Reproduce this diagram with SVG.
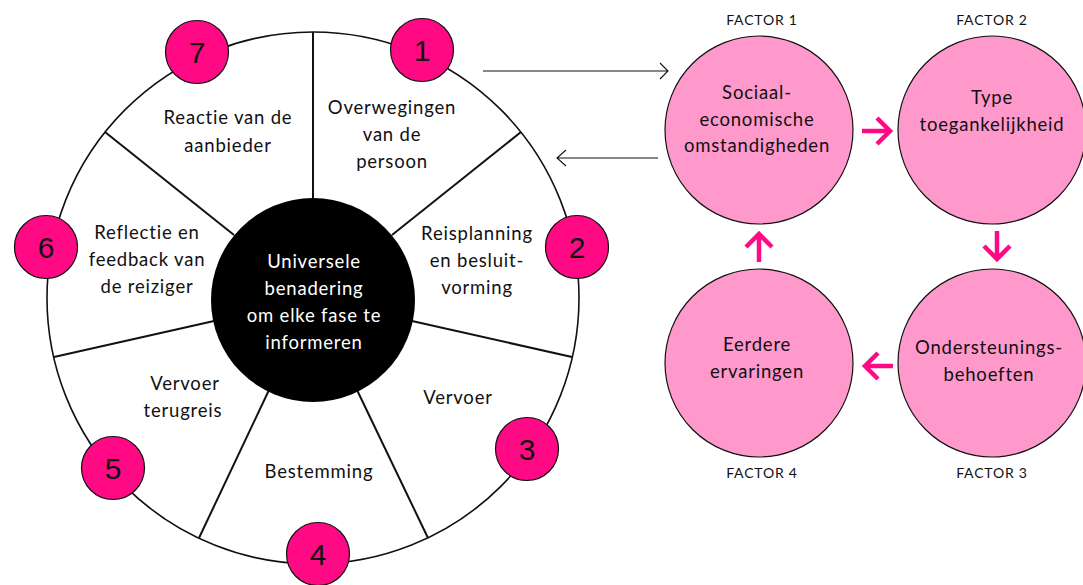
<svg xmlns="http://www.w3.org/2000/svg" width="1083" height="585" viewBox="0 0 1083 585">
<style>
.t{font-family:Lato,"Noto Sans",sans-serif;font-size:18.5px;letter-spacing:0.8px;fill:#111;text-anchor:middle}
.w{fill:#fff}
.num{font-family:"Liberation Sans",Arial,sans-serif;font-size:30px;fill:#111;text-anchor:middle}
.fl{font-family:Lato,"Noto Sans",sans-serif;font-size:14px;letter-spacing:0.8px;fill:#111;text-anchor:middle}
.badge{fill:#FF0A84;stroke:#111;stroke-width:1.2}
.fc{fill:#FF99CC;stroke:#111;stroke-width:1.2}
.spoke{stroke:#111;stroke-width:2;fill:none}
.thin{stroke:#111;stroke-width:1.1;fill:none}
.pk{stroke:#FF0A84;stroke-width:4.5;fill:none;stroke-linejoin:miter}
</style>
<rect width="1083" height="585" fill="#fff"/>
<g id="wheel">
<circle cx="313" cy="298" r="266" fill="#fff" stroke="#111" stroke-width="1.6"/>
<g class="spoke">
<line x1="313" y1="32" x2="313" y2="198"/>
<line x1="521" y1="132" x2="392" y2="235"/>
<line x1="572" y1="357" x2="412" y2="321"/>
<line x1="428" y1="538" x2="357" y2="390"/>
<line x1="199" y1="538" x2="269" y2="390"/>
<line x1="54" y1="357" x2="214" y2="321"/>
<line x1="105" y1="132" x2="234" y2="235"/>
</g>
</g>
<g id="center">
<circle cx="313" cy="300" r="102" fill="#000"/>
<text class="t w" x="314" y="268">Universele</text>
<text class="t w" x="314" y="295">benadering</text>
<text class="t w" x="314" y="322">om elke fase te</text>
<text class="t w" x="314" y="349">informeren</text>
</g>
<g id="seg1">
<text class="t" x="392" y="114">Overwegingen</text>
<text class="t" x="392" y="141">van de</text>
<text class="t" x="392" y="168">persoon</text>
</g>
<g id="seg2">
<text class="t" x="477" y="240">Reisplanning</text>
<text class="t" x="477" y="267">en besluit-</text>
<text class="t" x="477" y="294">vorming</text>
</g>
<g id="seg3"><text class="t" x="458" y="404">Vervoer</text></g>
<g id="seg4"><text class="t" x="319" y="478">Bestemming</text></g>
<g id="seg5">
<text class="t" x="185" y="390">Vervoer</text>
<text class="t" x="183" y="417">terugreis</text>
</g>
<g id="seg6">
<text class="t" x="147" y="239">Reflectie en</text>
<text class="t" x="147" y="266">feedback van</text>
<text class="t" x="147" y="293">de reiziger</text>
</g>
<g id="seg7">
<text class="t" x="228" y="124">Reactie van de</text>
<text class="t" x="228" y="152">aanbieder</text>
</g>
<g id="n1"><circle class="badge" cx="422" cy="50" r="31.5"/><text class="num" x="422" y="61">1</text></g>
<g id="n2"><circle class="badge" cx="577" cy="247" r="31.5"/><text class="num" x="577" y="258">2</text></g>
<g id="n3"><circle class="badge" cx="527" cy="449" r="31.5"/><text class="num" x="527" y="460">3</text></g>
<g id="n4"><circle class="badge" cx="318" cy="554" r="31.5"/><text class="num" x="318" y="565">4</text></g>
<g id="n5"><circle class="badge" cx="113" cy="468" r="31.5"/><text class="num" x="113" y="479">5</text></g>
<g id="n6"><circle class="badge" cx="46" cy="247" r="31.5"/><text class="num" x="46" y="258">6</text></g>
<g id="n7"><circle class="badge" cx="197" cy="52" r="31.5"/><text class="num" x="197" y="63">7</text></g>
<g id="f1">
<text class="fl" x="762" y="25">FACTOR 1</text>
<circle class="fc" cx="759" cy="130" r="94"/>
<text class="t" x="757" y="99">Sociaal-</text>
<text class="t" x="757" y="126">economische</text>
<text class="t" x="757" y="152">omstandigheden</text>
</g>
<g id="f2">
<text class="fl" x="992" y="25">FACTOR 2</text>
<circle class="fc" cx="992" cy="130" r="94"/>
<text class="t" x="992" y="104">Type</text>
<text class="t" x="992" y="131">toegankelijkheid</text>
</g>
<g id="f3">
<circle class="fc" cx="992" cy="363" r="94"/>
<text class="t" x="989" y="354">Ondersteunings-</text>
<text class="t" x="989" y="381">behoeften</text>
<text class="fl" x="992" y="478">FACTOR 3</text>
</g>
<g id="f4">
<circle class="fc" cx="759" cy="363" r="94"/>
<text class="t" x="757" y="351">Eerdere</text>
<text class="t" x="757" y="378">ervaringen</text>
<text class="fl" x="762" y="478">FACTOR 4</text>
</g>
<g id="connectors">
<path class="thin" d="M483,71 H668 M660,63 L668,71 L660,79"/>
<path class="thin" d="M658,158 H557 M566,150 L557,158 L566,166"/>
<path class="pk" d="M862,131 H890 M877,118 L890,131 L877,144"/>
<path class="pk" d="M997,231 V259 M984,246 L997,259 L1010,246"/>
<path class="pk" d="M893,366 H865 M878,353 L865,366 L878,379"/>
<path class="pk" d="M759,262 V234 M746,247 L759,234 L772,247"/>
</g>
</svg>
